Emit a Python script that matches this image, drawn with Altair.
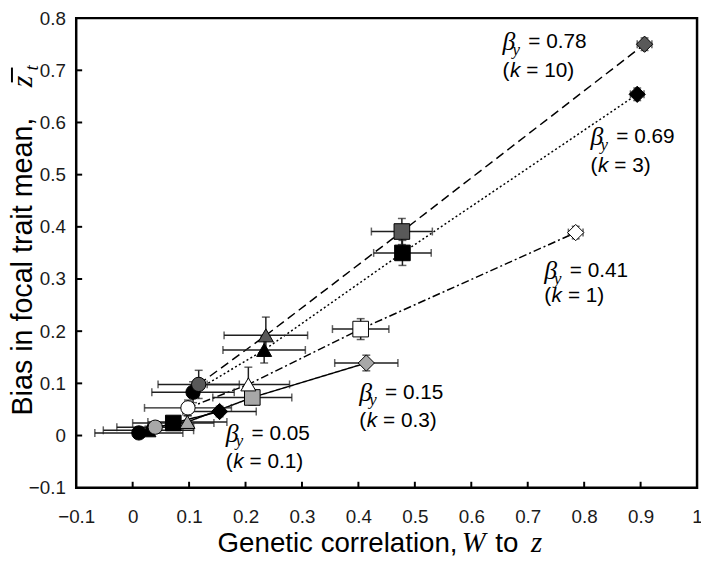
import altair as alt
import pandas as pd

# ---------------- data ----------------
series = (["k0.1"] * 4 + ["k0.3"] * 4 + ["k1"] * 4 + ["k3"] * 4 + ["k10"] * 4)
shapes = ["circle", "triangle", "square", "diamond"] * 5
x_mean = [0.011, 0.028, 0.072, 0.154,
          0.040, 0.097, 0.212, 0.414,
          0.098, 0.205, 0.404, 0.785,
          0.107, 0.233, 0.478, 0.894,
          0.117, 0.236, 0.477, 0.907]
y_mean = [0.005, 0.010, 0.024, 0.046,
          0.016, 0.026, 0.073, 0.139,
          0.053, 0.098, 0.204, 0.389,
          0.083, 0.164, 0.350, 0.654,
          0.098, 0.192, 0.391, 0.750]
x_err = [0.078, 0.080, 0.072, 0.065,
         0.068, 0.070, 0.070, 0.056,
         0.077, 0.073, 0.050, 0.013,
         0.073, 0.073, 0.051, 0.012,
         0.072, 0.074, 0.054, 0.013]
y_err = [0.008, 0.008, 0.010, 0.010,
         0.010, 0.012, 0.015, 0.015,
         0.015, 0.033, 0.020, 0.012,
         0.020, 0.025, 0.024, 0.012,
         0.027, 0.035, 0.025, 0.012]

series_order = ["k0.1", "k0.3", "k1", "k3", "k10"]
series_fill = ["#000000", "#a8a8a8", "#ffffff", "#000000", "#595959"]
series_dash = [[1, 0], [1, 0], [8, 3, 2, 3], [2, 2.5], [9, 5]]

anno_beta = ["= 0.78", "= 0.69", "= 0.41", "= 0.15", "= 0.05"]
anno_k = ["= 10)", "= 3)", "= 1)", "= 0.3)", "= 0.1)"]
anno_x = [0.6555, 0.8114, 0.7291, 0.4016, 0.1651]
anno_y1 = [0.7533, 0.5720, 0.3159, 0.0822, 0.0037]
anno_y2 = [0.6991, 0.5159, 0.2673, 0.0280, -0.0505]

x_label_vals = [-0.1, 0, 0.1, 0.2, 0.3, 0.4, 0.5, 0.6, 0.7, 0.8, 0.9, 1.0]
y_label_vals = [-0.1, 0, 0.1, 0.2, 0.3, 0.4, 0.5, 0.6, 0.7, 0.8]
x_tick_vals = [0, 0.1, 0.2, 0.3, 0.4, 0.5, 0.6, 0.7, 0.8, 0.9]
y_tick_vals = [0, 0.1, 0.2, 0.3, 0.4, 0.5, 0.6, 0.7]

# ---------------- frames ----------------
df = pd.DataFrame({"series": series, "shape": shapes, "x": x_mean, "y": y_mean,
                   "xe": x_err, "ye": y_err})
df["xlo"] = df["x"] - df["xe"]
df["xhi"] = df["x"] + df["xe"]
df["ylo"] = df["y"] - df["ye"]
df["yhi"] = df["y"] + df["ye"]
df["ord"] = range(len(df))

anno = pd.DataFrame({"ax": anno_x, "ay1": anno_y1, "ay2": anno_y2,
                     "bt": anno_beta, "kt": anno_k})

SANS = "Liberation Sans"
SERIF = "Liberation Serif"
W, H = 628, 475
OX, OY = 77, 15  # page position of the plot origin

xs = alt.Scale(domain=[-0.1, 1.0], nice=False, zero=False)
ys = alt.Scale(domain=[-0.1, 0.8], nice=False, zero=False)

LFS = 19
x_axis = alt.Axis(values=x_label_vals, format="~g", title=None, ticks=False, tickSize=0,
                  domain=False, grid=False, labelFont=SANS, labelFontSize=LFS,
                  labelColor="#1a1a1a", labelBaseline="middle", labelPadding=29,
                  labelFlush=False, labelOverlap=False)
y_axis = alt.Axis(values=y_label_vals, format="~g", title=None, ticks=False, tickSize=0,
                  domain=False, grid=False, labelFont=SANS, labelFontSize=LFS,
                  labelColor="#1a1a1a", labelPadding=11, labelFlush=False,
                  labelOverlap=False)


def X(f):
    return alt.X(f, scale=xs, axis=x_axis, title=None)


def Y(f):
    return alt.Y(f, scale=ys, axis=y_axis, title=None)


base = alt.Chart(df)

lines = base.mark_line(color="black", strokeWidth=1.5).encode(
    x=X("x:Q"), y=Y("y:Q"),
    strokeDash=alt.StrokeDash("series:N", scale=alt.Scale(domain=series_order, range=series_dash), legend=None),
    detail="series:N",
)

ebcol = "#1f1f1f"
xbars = base.mark_rule(color=ebcol, strokeWidth=1.5).encode(
    x=X("xlo:Q"), x2="xhi:Q", y=Y("y:Q"))
xcap_lo = base.mark_tick(orient="vertical", color=ebcol, size=8, thickness=1.5).encode(
    x=X("xlo:Q"), y=Y("y:Q"))
xcap_hi = base.mark_tick(orient="vertical", color=ebcol, size=8, thickness=1.5).encode(
    x=X("xhi:Q"), y=Y("y:Q"))
ybars = base.mark_rule(color=ebcol, strokeWidth=1.5).encode(
    y=Y("ylo:Q"), y2="yhi:Q", x=X("x:Q"))
ycap_lo = base.mark_tick(orient="horizontal", color=ebcol, size=8, thickness=1.5).encode(
    y=Y("ylo:Q"), x=X("x:Q"))
ycap_hi = base.mark_tick(orient="horizontal", color=ebcol, size=8, thickness=1.5).encode(
    y=Y("yhi:Q"), x=X("x:Q"))

points = base.mark_point(filled=True, stroke="black", strokeWidth=1, opacity=1).encode(
    x=X("x:Q"), y=Y("y:Q"),
    shape=alt.Shape("shape:N", scale=alt.Scale(domain=["circle", "triangle", "square", "diamond"],
                                                range=["circle", "triangle-up", "square", "diamond"]), legend=None),
    size=alt.Size("shape:N", scale=alt.Scale(domain=["circle", "triangle", "square", "diamond"],
                                              range=[210, 270, 220, 250]), legend=None),
    fill=alt.Fill("series:N", scale=alt.Scale(domain=series_order, range=series_fill), legend=None),
    order=alt.Order("ord:Q"),
)

# inward axis ticks
yt = alt.Chart(pd.DataFrame({"v": y_tick_vals})).mark_rule(color="black", strokeWidth=2).encode(
    y=Y("v:Q"), x=alt.value(0), x2=alt.value(6))
xt = alt.Chart(pd.DataFrame({"v": x_tick_vals})).mark_rule(color="black", strokeWidth=2).encode(
    x=X("v:Q"), y=alt.value(H), y2=alt.value(H - 6))

# annotations
A = alt.Chart(anno)
AFS = 21
ann_layers = [
    A.mark_text(text="β", font=SERIF, fontStyle="italic", fontSize=26, align="left", baseline="middle", color="black").encode(
        x=X("ax:Q"), y=Y("ay1:Q")),
    A.mark_text(text="y", font=SERIF, fontStyle="italic", fontSize=17, align="left", baseline="middle", dx=10, dy=8, color="black").encode(
        x=X("ax:Q"), y=Y("ay1:Q")),
    A.mark_text(font=SANS, fontSize=AFS, align="left", baseline="middle", dx=26, color="black").encode(
        x=X("ax:Q"), y=Y("ay1:Q"), text="bt:N"),
    A.mark_text(text="(", font=SANS, fontSize=AFS, align="left", baseline="middle", color="black").encode(
        x=X("ax:Q"), y=Y("ay2:Q")),
    A.mark_text(text="k", font=SANS, fontStyle="italic", fontSize=AFS, align="left", baseline="middle", dx=7.5, color="black").encode(
        x=X("ax:Q"), y=Y("ay2:Q")),
    A.mark_text(font=SANS, fontSize=AFS, align="left", baseline="middle", dx=24, color="black").encode(
        x=X("ax:Q"), y=Y("ay2:Q"), text="kt:N"),
]


def txt(t, px, py, size, font=SANS, style="normal", angle=0):
    return alt.Chart(pd.DataFrame({"t": [t]})).mark_text(
        font=font, fontSize=size, fontStyle=style, angle=angle, align="left",
        baseline="alphabetic", color="black").encode(
        x=alt.value(px - OX), y=alt.value(py - OY), text="t:N")


TFS = 28
YX = 32  # baseline x (page) of the rotated y title
titles = [
    txt("Genetic correlation,", 220, 555, TFS),
    txt("W", 467, 555, TFS + 1, SERIF, "italic"),
    txt("to", 501, 555, TFS),
    txt("z", 537, 555, TFS + 1, SERIF, "italic"),
    txt("Bias in focal trait mean,", YX, 417, 29, angle=270),
    txt("z", YX, 85, 30, SERIF, "italic", angle=270),
    txt("t", YX + 6, 68, 19, SERIF, "italic", angle=270),
]
overline = alt.Chart(pd.DataFrame({"a": [0]})).mark_rule(color="black", strokeWidth=2).encode(
    x=alt.value(YX - 20 - OX), y=alt.value(65 - OY), y2=alt.value(80 - OY))

chart = alt.layer(
    lines, xbars, xcap_lo, xcap_hi, ybars, ycap_lo, ycap_hi, points, yt, xt,
    *ann_layers, *titles, overline
).properties(
    width=W, height=H,
    autosize=alt.AutoSizeParams(type="none"),
    padding={"left": OX - 8, "top": OY - 8, "right": 4, "bottom": 80},
).configure_view(stroke="black", strokeWidth=2.5)

chart.save("out.html", embed_options={"renderer": "svg", "actions": False})
